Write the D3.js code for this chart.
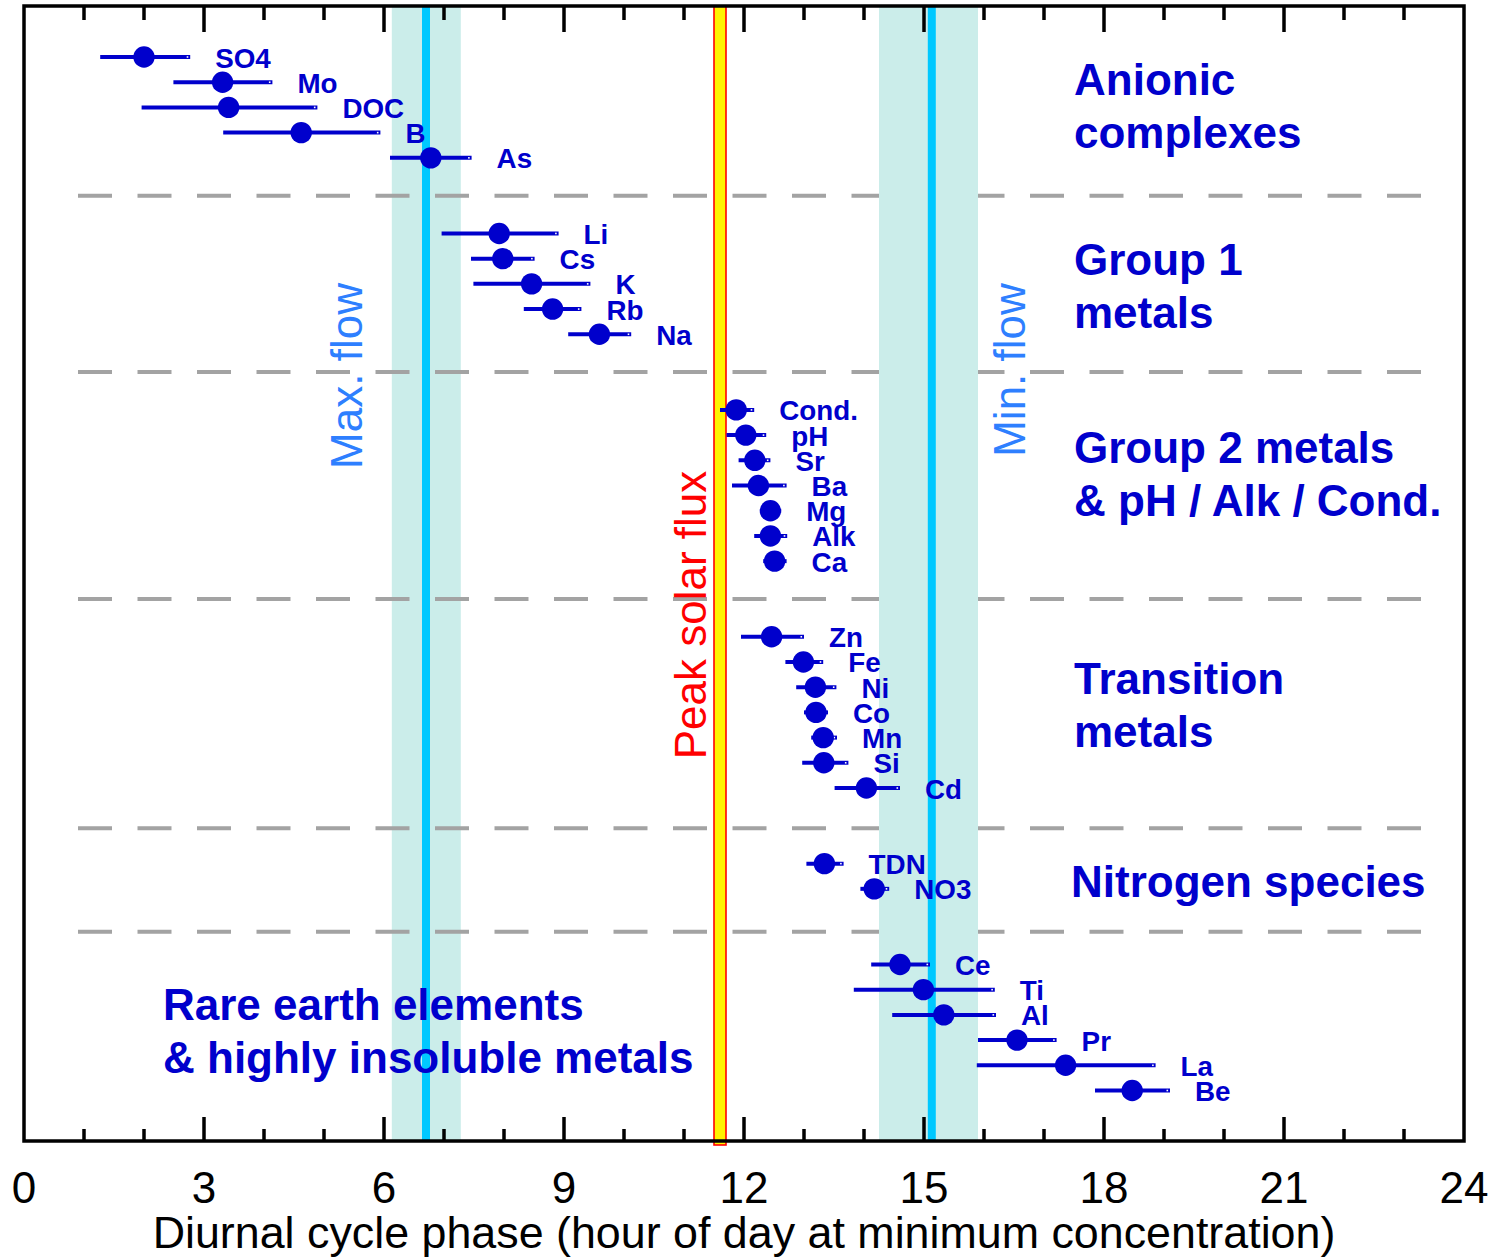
<!DOCTYPE html>
<html>
<head>
<meta charset="utf-8">
<script src="https://cdn.jsdelivr.net/npm/d3@7"></script>
<style>
  body { margin: 0; background: #fff; }
  svg text { font-family: "Liberation Sans", Arial, sans-serif; }
</style>
</head>
<body>
<div id="chart"></div>
<script>
// species, phase (hour at minimum concentration) and its range
var names  = ["SO4","Mo","DOC","B","As",
              "Li","Cs","K","Rb","Na",
              "Cond.","pH","Sr","Ba","Mg","Alk","Ca",
              "Zn","Fe","Ni","Co","Mn","Si","Cd",
              "TDN","NO3",
              "Ce","Ti","Al","Pr","La","Be"];
var rows   = [0,1,2,3,4, 7,8,9,10,11, 14,15,16,17,18,19,20, 23,24,25,26,27,28,29, 32,33, 36,37,38,39,40,41];
var phase  = [2.0,3.31,3.41,4.62,6.78,
              7.92,7.98,8.46,8.81,9.59,
              11.87,12.03,12.18,12.24,12.44,12.44,12.51,
              12.46,12.99,13.19,13.2,13.32,13.33,14.04,
              13.34,14.17,
              14.6,14.99,15.33,16.55,17.36,18.47];
var lowEnd = [1.27,2.49,1.96,3.32,6.1,
              6.96,7.45,7.49,8.33,9.07,
              11.6,11.71,11.91,11.8,12.3,12.17,12.32,
              11.95,12.69,12.87,13.0,13.12,12.97,13.51,
              13.04,13.94,
              14.12,13.83,14.47,15.9,15.88,17.85];
var highEnd = [2.77,4.14,4.89,5.94,7.46,
               8.91,8.51,9.44,9.29,10.12,
               12.17,12.37,12.44,12.71,12.62,12.72,12.71,
               13.0,13.32,13.54,13.4,13.55,13.74,14.6,
               13.66,14.42,
               15.1,16.18,16.2,17.21,18.86,19.1];

var separators = [5.5, 12.5, 21.5, 30.6, 34.7];   // in row units
var maxFlowBand = [6.13, 7.28], maxFlowHour = 6.7;
var minFlowBand = [14.25, 15.9], minFlowHour = 15.13;
var peakSolarHour = 11.6;
var xTicks = [0,3,6,9,12,15,18,21,24];
var xMinorTicks = d3.range(1, 24, 1);

var blue = "#0000cc";

var svg = d3.select("#chart").append("svg")
    .attr("width", 1497).attr("height", 1258);

var x = d3.scaleLinear().domain([0, 24]).range([24, 1464]);
var y = d3.scaleLinear().domain([0, 41]).range([57, 1090.5]);
var plotTop = 6, plotBottom = 1141;

// max flow band (below the separators)
svg.append("rect")
    .attr("x", x(maxFlowBand[0])).attr("y", plotTop)
    .attr("width", x(maxFlowBand[1]) - x(maxFlowBand[0]))
    .attr("height", plotBottom - plotTop)
    .attr("fill", "#cbedea");

// dashed separators
svg.selectAll(".sep").data(separators).enter().append("line")
    .attr("x1", 78).attr("x2", 1421)
    .attr("y1", d => y(d)).attr("y2", d => y(d))
    .attr("stroke", "#a3a3a3").attr("stroke-width", 4)
    .attr("stroke-dasharray", "34,25.5");

// min flow band (above the separators)
svg.append("rect")
    .attr("x", x(minFlowBand[0])).attr("y", plotTop)
    .attr("width", x(minFlowBand[1]) - x(minFlowBand[0]))
    .attr("height", plotBottom - plotTop)
    .attr("fill", "#cbedea");

// flow lines
svg.selectAll(".flow").data([maxFlowHour, minFlowHour]).enter().append("line")
    .attr("x1", d => x(d)).attr("x2", d => x(d))
    .attr("y1", plotTop).attr("y2", plotBottom)
    .attr("stroke", "#00c8ff").attr("stroke-width", 8);

// peak solar flux
svg.append("rect")
    .attr("x", x(peakSolarHour) - 6).attr("y", plotTop)
    .attr("width", 12).attr("height", plotBottom + 4 - plotTop)
    .attr("fill", "#fff200").attr("stroke", "#ff0000").attr("stroke-width", 1.6);

// vertical labels
function vlabel(txt, cx, cy, col) {
    svg.append("text")
        .attr("transform", "translate(" + cx + "," + cy + ") rotate(-90)")
        .attr("text-anchor", "middle")
        .attr("font-size", 44)
        .attr("fill", col)
        .text(txt);
}
vlabel("Max. flow", 362, 376, "#2e7fff");
vlabel("Min. flow", 1025, 370, "#2e7fff");
vlabel("Peak solar flux", 706, 615, "#ff0000");

// error bars
var idx = d3.range(names.length);
svg.selectAll(".bar").data(idx).enter().append("line")
    .attr("x1", i => x(lowEnd[i])).attr("x2", i => x(highEnd[i]))
    .attr("y1", i => y(rows[i])).attr("y2", i => y(rows[i]))
    .attr("stroke", blue).attr("stroke-width", 4);
svg.selectAll(".barEnd").data(idx).enter().append("rect")
    .attr("x", i => x(highEnd[i]) - 3.5).attr("y", i => y(rows[i]) - 0.8)
    .attr("width", 1.6).attr("height", 1.6)
    .attr("fill", "#fff");

// points
svg.selectAll(".dot").data(idx).enter().append("circle")
    .attr("cx", i => x(phase[i])).attr("cy", i => y(rows[i]))
    .attr("r", 10.7).attr("fill", blue);

// species labels
svg.selectAll(".lab").data(idx).enter().append("text")
    .attr("x", i => x(highEnd[i]) + 25)
    .attr("y", i => y(rows[i]) + 10.5)
    .attr("font-size", 27.8).attr("font-weight", "bold")
    .attr("fill", blue)
    .text(i => names[i]);

// group labels
var groups = [
    {lines: ["Anionic", "complexes"], x: 1074, y: 95},
    {lines: ["Group 1", "metals"], x: 1074, y: 275},
    {lines: ["Group 2 metals", "& pH / Alk / Cond."], x: 1074, y: 463},
    {lines: ["Transition", "metals"], x: 1074, y: 694},
    {lines: ["Nitrogen species"], x: 1071, y: 897},
    {lines: ["Rare earth elements", "& highly insoluble metals"], x: 163, y: 1020}
];
groups.forEach(function(g) {
    g.lines.forEach(function(t, k) {
        svg.append("text")
            .attr("x", g.x).attr("y", g.y + k * 53)
            .attr("font-size", 44).attr("font-weight", "bold")
            .attr("fill", blue)
            .text(t);
    });
});

// frame
svg.append("rect")
    .attr("x", 24).attr("y", plotTop)
    .attr("width", 1440).attr("height", plotBottom - plotTop)
    .attr("fill", "none").attr("stroke", "#000").attr("stroke-width", 3.5);

// ticks top and bottom
svg.selectAll(".tb").data(xMinorTicks).enter().append("line")
    .attr("x1", d => x(d)).attr("x2", d => x(d))
    .attr("y1", plotBottom).attr("y2", d => plotBottom - (d % 3 === 0 ? 24 : 12))
    .attr("stroke", "#000").attr("stroke-width", 3.5);
svg.selectAll(".tt").data(xMinorTicks).enter().append("line")
    .attr("x1", d => x(d)).attr("x2", d => x(d))
    .attr("y1", plotTop).attr("y2", d => plotTop + (d % 3 === 0 ? 26 : 14))
    .attr("stroke", "#000").attr("stroke-width", 3.5);

// tick labels
svg.selectAll(".tl").data(xTicks).enter().append("text")
    .attr("x", d => x(d)).attr("y", 1203)
    .attr("text-anchor", "middle")
    .attr("font-size", 44)
    .text(d => d);

svg.append("text")
    .attr("x", (x(0) + x(24)) / 2).attr("y", 1248)
    .attr("text-anchor", "middle")
    .attr("font-size", 44.8)
    .text("Diurnal cycle phase (hour of day at minimum concentration)");
</script>
</body>
</html>
